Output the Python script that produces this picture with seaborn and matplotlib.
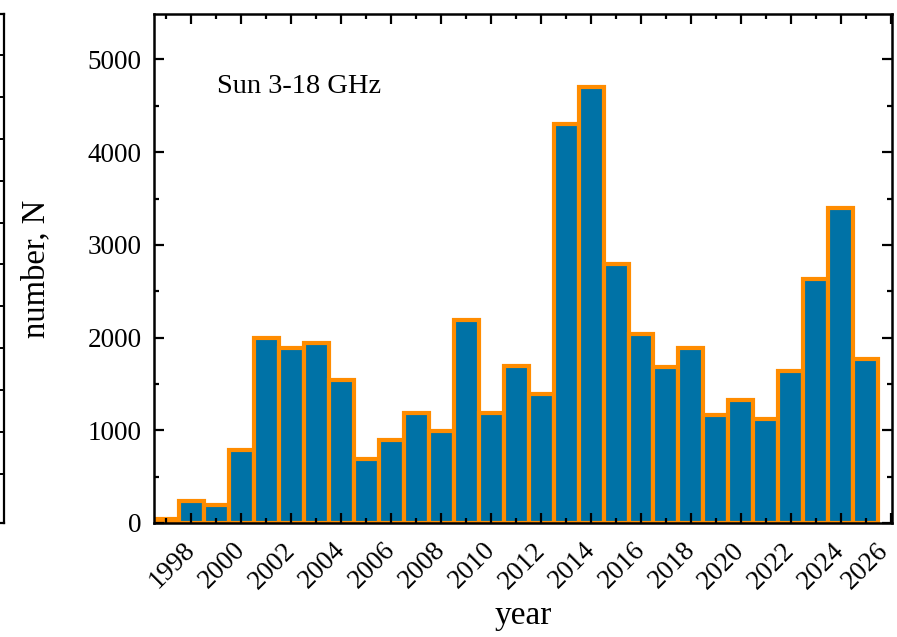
import matplotlib
matplotlib.use("Agg")
import matplotlib.pyplot as plt
import matplotlib.transforms as mtransforms
from matplotlib.ticker import MultipleLocator
import seaborn as sns
import pandas as pd

# Yearly event counts, Sun 3-18 GHz
years = list(range(1997, 2026))
counts = [40, 240, 190, 790, 1990, 1890, 1940, 1540, 690, 890,
          1190, 990, 2190, 1190, 1690, 1390, 4300, 4700, 2790, 2040,
          1680, 1890, 1160, 1330, 1120, 1640, 2630, 3400, 1770]
x_ticks = list(range(1998, 2027, 2))
y_ticks = [0, 1000, 2000, 3000, 4000, 5000]

sns.set_style("ticks")
plt.rcParams["font.family"] = ["Liberation Serif", "DejaVu Serif"]
plt.rcParams["text.color"] = "black"
plt.rcParams["axes.labelcolor"] = "black"
plt.rcParams["xtick.color"] = "black"
plt.rcParams["ytick.color"] = "black"

W, H = 897, 637
fig = plt.figure(figsize=(W / 100, H / 100), dpi=100)

# main panel
left, right, top, bottom = 154, 892, 14, 523
ax = fig.add_axes([left / W, 1 - bottom / H, (right - left) / W, (bottom - top) / H])

df = pd.DataFrame({"year": years, "count": counts})
sns.barplot(data=df, x="year", y="count", native_scale=True, width=1,
            color="#0072A6", saturation=1, edgecolor="#FF8C00",
            linewidth=3, errorbar=None, ax=ax)

ax.set_xlim(1996.5, 2026.05)
ax.set_ylim(0, 5490)
ax.set_xticks(x_ticks)
ax.set_xticklabels([])
ax.xaxis.set_minor_locator(MultipleLocator(1))
ax.set_yticks(y_ticks)
ax.yaxis.set_minor_locator(MultipleLocator(500))
ax.tick_params(which="both", direction="in", top=True, right=True,
               width=1.6, colors="black", labelsize=19.5)
ax.tick_params(which="major", length=7.5)
ax.tick_params(which="minor", length=3.8)
ax.tick_params(axis="y", which="major", pad=9)
for s in ax.spines.values():
    s.set_linewidth(1.8)
    s.set_color("black")
ax.set_axisbelow(False)

# rotated year labels under the major ticks
base = mtransforms.blended_transform_factory(ax.transData, ax.transAxes)
for i, t in enumerate(x_ticks):
    dx = -6 if i == len(x_ticks) - 1 else 0
    off = mtransforms.ScaledTranslation(dx / 100, -17 / 72, fig.dpi_scale_trans)
    ax.text(t, 0, str(t), transform=base + off, rotation=45, ha="right",
            va="center", rotation_mode="anchor", fontsize=19.5, clip_on=False)

ax.set_xlabel("year", fontsize=24, labelpad=52)
ax.set_ylabel("number, N", fontsize=23.5, labelpad=26)
ax.text(0.085, 0.845, "Sun 3-18 GHz", transform=ax.transAxes,
        fontsize=20.5, va="baseline", ha="left")

# edge of the neighbouring panel on the left
nb = fig.add_axes([-0.3, 1 - 523 / H, 0.3 + 3.5 / W, (523 - 13.5) / H])
nb.set_xlim(0, 1)
nb.set_ylim(-1.17, 10.99)
nb.set_xticks([])
nb.set_yticks(range(0, 11))
nb.yaxis.tick_right()
nb.tick_params(axis="y", direction="in", length=5, width=1.4, labelright=False)
for s in nb.spines.values():
    s.set_linewidth(1.6)
    s.set_color("black")
nb.set_facecolor("white")

fig.savefig("out.png", dpi=100)
